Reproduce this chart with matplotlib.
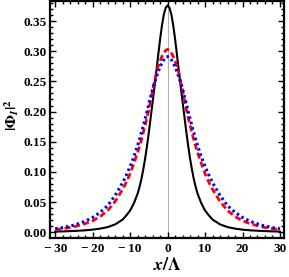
import matplotlib
matplotlib.use("Agg")
import matplotlib.pyplot as plt
from matplotlib.ticker import MultipleLocator

# values
x_vals = [-30, -28, -25, -22, -20, -18, -16, -14, -12, -11, -10, -9, -8, -7.5, -7, -6.5, -6, -5.5,
          -5, -4.5, -4, -3.5, -3, -2.5, -2, -1.5, -1, -0.5,
          0,
          0.5, 1, 1.5, 2, 2.5, 3, 3.5, 4, 4.5, 5, 5.5, 6, 6.5, 7, 7.5, 8, 9, 10, 11, 12,
          14, 16, 18, 20, 22, 25, 28, 30]

black = [0.0011, 0.0014, 0.0021, 0.0032, 0.0043, 0.0060, 0.0085, 0.013, 0.021, 0.028, 0.036,
         0.048, 0.064, 0.075, 0.088, 0.104, 0.122, 0.143, 0.166, 0.191, 0.216, 0.241, 0.267,
         0.294, 0.320, 0.343, 0.361, 0.372,
         0.376,
         0.372, 0.361, 0.343, 0.320, 0.294, 0.267, 0.241, 0.216, 0.191, 0.166, 0.143, 0.122,
         0.104, 0.088, 0.075, 0.064, 0.048, 0.036, 0.028, 0.021, 0.013, 0.0085, 0.0060,
         0.0043, 0.0032, 0.0021, 0.0014, 0.0011]

red = [0.0043, 0.0058, 0.0090, 0.0142, 0.019, 0.026, 0.036, 0.051, 0.071, 0.083, 0.097,
       0.114, 0.132, 0.142, 0.153, 0.165, 0.177, 0.190, 0.204, 0.219, 0.235, 0.250, 0.264,
       0.275, 0.284, 0.2915, 0.297, 0.3015,
       0.303,
       0.3015, 0.297, 0.2915, 0.284, 0.275, 0.264, 0.250, 0.235, 0.219, 0.204, 0.190, 0.177,
       0.165, 0.153, 0.142, 0.132, 0.114, 0.097, 0.083, 0.071, 0.051, 0.036, 0.026, 0.019,
       0.0142, 0.0090, 0.0058, 0.0043]

blue = [0.0058, 0.0077, 0.0117, 0.0182, 0.0245, 0.033, 0.044, 0.061, 0.082, 0.095, 0.109,
        0.125, 0.144, 0.154, 0.165, 0.176, 0.188, 0.200, 0.213, 0.225, 0.237, 0.248, 0.257,
        0.266, 0.274, 0.2805, 0.286, 0.290,
        0.291,
        0.290, 0.286, 0.2805, 0.274, 0.266, 0.257, 0.248, 0.237, 0.225, 0.213, 0.200, 0.188,
        0.176, 0.165, 0.154, 0.144, 0.125, 0.109, 0.095, 0.082, 0.061, 0.044, 0.033, 0.0245,
        0.0182, 0.0117, 0.0077, 0.0058]

xticks = [-30, -20, -10, 0, 10, 20, 30]
xtick_labels = ["\u2212\u200930", "\u2212\u200920", "\u2212\u200910", "0", "10", "20", "30"]
yticks = [0.00, 0.05, 0.10, 0.15, 0.20, 0.25, 0.30, 0.35]
ytick_labels = ["0.00", "0.05", "0.10", "0.15", "0.20", "0.25", "0.30", "0.35"]

plt.rcParams["font.family"] = ["Liberation Serif", "DejaVu Serif"]
plt.rcParams["font.weight"] = "bold"
plt.rcParams["mathtext.fontset"] = "stix"

fig = plt.figure(figsize=(2.89, 2.77), dpi=100)
ax = fig.add_axes([0.173, 0.142, 0.810, 0.854])

ax.axvline(0, color="#b0b0b0", lw=0.8, zorder=1)
ax.plot(x_vals, black, color="black", lw=1.5, zorder=3)
ax.plot(x_vals, red, color="red", lw=2.0, ls=(0, (2.2, 1.2)), zorder=4)
ax.plot(x_vals, blue, color="blue", lw=2.2, ls=(0, (0.8, 1.0)), zorder=5)

ax.set_xlim(-31.4, 31.1)
ax.set_ylim(-0.009, 0.383)
ax.set_xticks(xticks)
ax.set_xticklabels(xtick_labels)
ax.set_yticks(yticks)
ax.set_yticklabels(ytick_labels)
ax.xaxis.set_minor_locator(MultipleLocator(2))
ax.yaxis.set_minor_locator(MultipleLocator(0.01))

ax.tick_params(which="both", direction="in", top=True, right=True, labelsize=9.5, width=1.0)
ax.tick_params(which="major", length=4, pad=2.5)
ax.tick_params(which="minor", length=2)
ax.tick_params(axis="x", which="major", pad=4)
for lab in ax.get_xticklabels() + ax.get_yticklabels():
    lab.set_fontweight("bold")
for sp in ax.spines.values():
    sp.set_linewidth(1.6)

ax.set_xlabel(r"$x/\mathbf{\Lambda}$", fontsize=13)
ax.xaxis.set_label_coords(0.50, -0.08)
ax.set_ylabel(r"$|\mathbf{\Phi}_{I}|^2$", fontsize=11)
ax.yaxis.set_label_coords(-0.125, 0.52)

fig.savefig("out.png", dpi=100)
